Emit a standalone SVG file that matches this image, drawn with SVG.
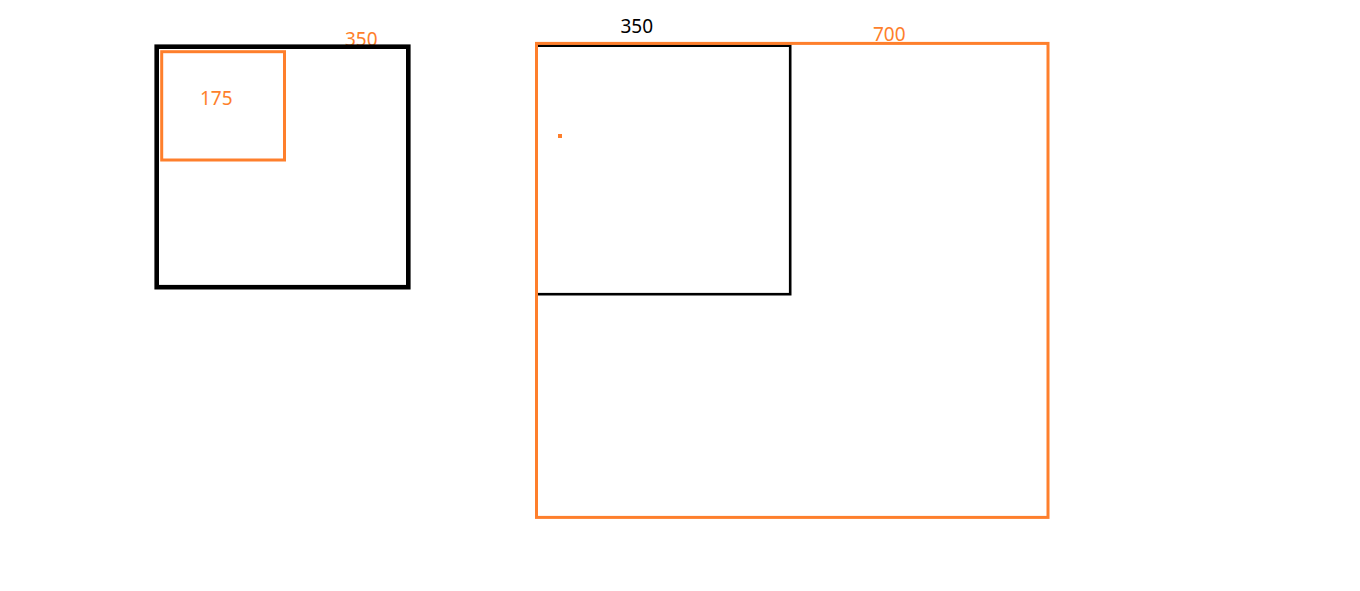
<svg xmlns="http://www.w3.org/2000/svg" width="1360" height="591" viewBox="0 0 1360 591">
<style>
.lbl{font-family:"Noto Sans","Open Sans",sans-serif;font-size:19px}
.or{fill:#fe7f2c}
.bk{fill:#000}
</style>
<rect width="1360" height="591" fill="#fff"/>
<g id="left-group">
<text class="lbl or" x="345" y="45.5">350</text>
<rect id="outer-350" x="156.7" y="46.7" width="251.6" height="240.5" fill="none" stroke="#000" stroke-width="4.6"/>
<rect id="inner-175" x="161.7" y="51.7" width="122.8" height="108.3" fill="none" stroke="#fe7f2c" stroke-width="3"/>
<text class="lbl or" x="200" y="104.5">175</text>
</g>
<g id="right-group">
<rect id="inner-350" x="536.5" y="45.7" width="253.7" height="248.5" fill="none" stroke="#000" stroke-width="2.6"/>
<rect id="outer-700" x="536.5" y="43.4" width="511.5" height="474" fill="none" stroke="#fe7f2c" stroke-width="3"/>
<rect id="dot" x="558" y="134" width="4" height="4" fill="#fe7f2c"/>
<text class="lbl bk" x="620.5" y="32.7">350</text>
<text class="lbl or" x="873" y="40.7">700</text>
</g>
<g id="connectors"/>
</svg>
